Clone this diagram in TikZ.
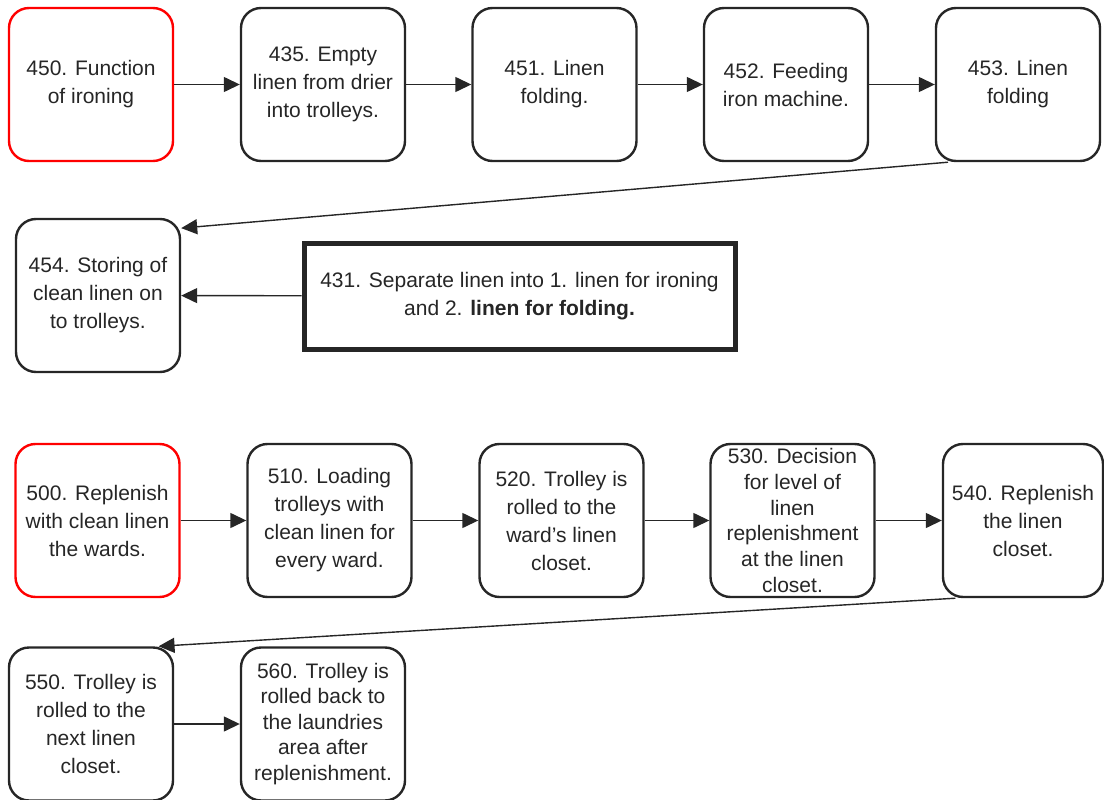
\documentclass[tikz,border=0pt]{standalone}
\usepackage{fontspec}
\setmainfont{Liberation Sans}
\usetikzlibrary{arrows.meta}

\begin{document}
\begin{tikzpicture}[x=1pt, y=-1pt,
            act/.style={rectangle, rounded corners=20pt, draw=black!85,
                    line width=2.4pt, fill=white, text=black!85,
                    minimum width=164pt, minimum height=153pt, inner sep=2pt,
                    align=center, font=\fontsize{21}{28}\selectfont},
            start/.style={act, draw=red},
            note/.style={rectangle, draw=black!85, line width=5pt, fill=white,
                    text=black!85, minimum width=431pt, minimum height=106pt,
                    align=center, font=\fontsize{21}{27.5}\selectfont},
            rel/.style={draw=black!85, line width=1.4pt,
                    -{Triangle[length=16pt,width=15pt]}}
            ]
            \useasboundingbox (0,0) rectangle (1104,800);

            %% ---- Ironing ----
            \node[start] (s450) at (91,84.5)    {450. Function\\of ironing};
            \node[act]   (s435) at (323,84.5)   {435. Empty\\linen from drier\\into trolleys.};
            \node[act]   (s451) at (554.5,84.5) {451. Linen\\folding.};
            \node[act]   (s452) at (786,84.5)   {452. Feeding\\iron machine.};
            \node[act]   (s453) at (1018,84.5)  {453. Linen\\folding};
            \node[act]   (s454) at (98,295.5)   {454. Storing of\\clean linen on\\to trolleys.};
            \node[note]  (s431) at (519.5,296)
                {431. Separate linen into 1. linen for ironing\\and 2. \textbf{linen for folding.}};

            %% ---- Replenishing ----
            \node[start] (s500) at (97.5,520.5) {500. Replenish\\with clean linen\\the wards.};
            \node[act]   (s510) at (329.5,520.5) {510. Loading\\trolleys with\\clean linen for\\every ward.};
            \node[act]   (s520) at (561.5,520.5) {520. Trolley is\\rolled to the\\ward’s linen\\closet.};
            \node[act, font=\fontsize{21}{25.8}\selectfont]
                         (s530) at (792.5,520.5) {530. Decision\\for level of\\linen\\replenishment\\at the linen\\closet.};
            \node[act, minimum width=160pt]
                         (s540) at (1023,520.5)  {540. Replenish\\the linen\\closet.};
            \node[act]   (s550) at (91,724)      {550. Trolley is\\rolled to the\\next linen\\closet.};
            \node[act, font=\fontsize{21}{25.5}\selectfont]
                         (s560) at (323,724)     {560. Trolley is\\rolled back to\\the laundries\\area after\\replenishment.};

            %% ---- Connectors ----
            \draw[rel] (s450) -- (s435);
            \draw[rel] (s435) -- (s451);
            \draw[rel] (s451) -- (s452);
            \draw[rel] (s452) -- (s453);
            % back to the left margin
            \draw[rel] (s453.228) -- (s454.39);
            \draw[rel] (s431) -- (s454);

            \draw[rel] (s500) -- (s510);
            \draw[rel] (s510) -- (s520);
            \draw[rel] (s520) -- (s530);
            \draw[rel] (s530) -- (s540);
            % back to the left margin
            \draw[rel] (s540.229) -- (s550.49);
            \draw[rel] (s550) -- (s560);
        \end{tikzpicture}
\end{document}
